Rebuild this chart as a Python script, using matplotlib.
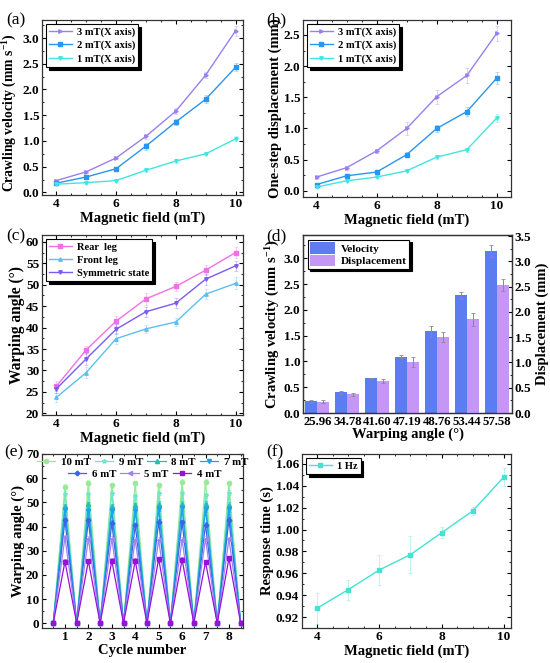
import matplotlib
matplotlib.use("Agg")
import matplotlib.pyplot as plt
import numpy as np
from matplotlib.ticker import MultipleLocator, FormatStrFormatter

plt.rcParams['font.family'] = ['Liberation Serif', 'DejaVu Serif']
plt.rcParams['font.weight'] = 'bold'
plt.rcParams['axes.labelweight'] = 'bold'
plt.rcParams['mathtext.fontset'] = 'custom'
plt.rcParams['mathtext.rm'] = 'Liberation Serif:bold'
plt.rcParams['mathtext.bf'] = 'Liberation Serif:bold'
plt.rcParams['mathtext.default'] = 'bf'

# ---------------- data ----------------
field = [4, 5, 6, 7, 8, 9, 10]

# (a) crawling velocity (mm/s)
vel_3mT = [0.23, 0.40, 0.67, 1.09, 1.58, 2.28, 3.14]
vel_2mT = [0.18, 0.30, 0.46, 0.90, 1.37, 1.81, 2.43]
vel_1mT = [0.16, 0.19, 0.23, 0.43, 0.61, 0.75, 1.04]
vel_3mT_err = [0.03, 0.03, 0.03, 0.05, 0.06, 0.06, 0.10]
vel_2mT_err = [0.03, 0.03, 0.04, 0.07, 0.06, 0.08, 0.08]
vel_1mT_err = [0.02, 0.02, 0.02, 0.04, 0.03, 0.03, 0.05]

# (b) one-step displacement (mm)
disp_3mT = [0.22, 0.37, 0.64, 1.00, 1.51, 1.85, 2.53]
disp_2mT = [0.10, 0.24, 0.30, 0.58, 1.00, 1.27, 1.81]
disp_1mT = [0.06, 0.16, 0.22, 0.32, 0.54, 0.66, 1.17]
disp_3mT_err = [0.03, 0.03, 0.03, 0.10, 0.11, 0.12, 0.12]
disp_2mT_err = [0.02, 0.02, 0.02, 0.04, 0.06, 0.07, 0.10]
disp_1mT_err = [0.02, 0.02, 0.02, 0.02, 0.03, 0.03, 0.06]

# (c) warping angle (deg)
rear_leg = [26.3, 34.8, 41.5, 46.7, 49.6, 53.4, 57.5]
front_leg = [23.7, 29.5, 37.4, 39.7, 41.3, 47.8, 50.3]
symmetric = [25.7, 32.7, 39.6, 43.7, 45.7, 51.3, 54.4]
rear_err = [1.2, 1.0, 1.2, 1.4, 1.0, 1.2, 1.3]
front_err = [1.0, 1.2, 1.3, 1.0, 1.0, 1.2, 1.4]
sym_err = [1.0, 1.4, 1.2, 1.2, 1.2, 1.3, 1.2]

# (d) bars
warp_labels = ['25.96', '34.78', '41.60', '47.19', '48.76', '53.44', '57.58']
bar_velocity = [0.23, 0.40, 0.67, 1.09, 1.58, 2.28, 3.14]
bar_velocity_err = [0.03, 0.03, 0.01, 0.03, 0.10, 0.07, 0.12]
bar_displacement = [0.22, 0.37, 0.64, 1.00, 1.51, 1.85, 2.53]
bar_displacement_err = [0.03, 0.03, 0.04, 0.10, 0.10, 0.12, 0.12]

# (e) cyclic warping angle peaks for cycles 1..8
cycles = [1, 2, 3, 4, 5, 6, 7, 8]
peaks_10mT = [56.5, 58.2, 57.0, 58.0, 57.0, 58.5, 58.5, 57.8]
peaks_9mT = [53.5, 53.3, 54.0, 52.5, 54.0, 54.0, 53.0, 54.0]
peaks_8mT = [48.3, 49.3, 48.3, 48.8, 49.5, 49.5, 49.5, 49.0]
peaks_7mT = [47.0, 46.5, 46.5, 46.5, 47.3, 47.5, 47.2, 47.2]
peaks_6mT = [42.5, 42.5, 41.5, 40.5, 42.0, 41.8, 40.8, 42.8]
peaks_5mT = [35.5, 35.0, 35.0, 34.5, 34.5, 34.5, 35.0, 34.8]
peaks_4mT = [25.5, 25.7, 25.8, 25.8, 26.5, 26.3, 25.3, 26.8]
e_labels = ['10 mT', '9 mT', '8 mT', '7 mT', '6 mT', '5 mT', '4 mT']

# (f) response time
resp_time = [0.928, 0.945, 0.963, 0.977, 0.997, 1.017, 1.048]
resp_err = [0.014, 0.009, 0.014, 0.017, 0.005, 0.004, 0.008]

# ---------------- figure ----------------
W, H = 550, 663
fig = plt.figure(figsize=(W / 100, H / 100), dpi=100)


def ax_px(x0, y0, x1, y1):
    return fig.add_axes([x0 / W, 1 - y1 / H, (x1 - x0) / W, (y1 - y0) / H])


TICK_FS = 9.5
LAB_FS = 10.5
LEG_FS = 7.6


def style(ax, xminor=0.5, yminor=None, right=True):
    ax.tick_params(direction='in', top=True, right=right, labelsize=TICK_FS,
                   length=3, width=0.8, pad=2)
    ax.tick_params(which='minor', direction='in', top=True, right=right,
                   length=1.6, width=0.6)
    if xminor:
        ax.xaxis.set_minor_locator(MultipleLocator(xminor))
    if yminor:
        ax.yaxis.set_minor_locator(MultipleLocator(yminor))
    for s in ax.spines.values():
        s.set_linewidth(0.9)
        s.set_color('#333333')
    for lab in ax.get_xticklabels() + ax.get_yticklabels():
        lab.set_fontweight('bold')


def framed_legend(ax, handles, labels, **kw):
    opts = dict(loc='upper left', fontsize=LEG_FS,
                frameon=True, fancybox=False, edgecolor='black',
                framealpha=1, shadow={'color': 'black', 'alpha': 1},
                borderpad=0.3, labelspacing=0.35, handlelength=2.1,
                handletextpad=0.5, borderaxespad=0.4)
    opts.update(kw)
    leg = ax.legend(handles, labels, **opts)
    leg.get_frame().set_linewidth(0.8)
    for t in leg.get_texts():
        t.set_fontweight('bold')
    return leg


def line_err(ax, x, y, e, color, marker, label, ms=2.5):
    ax.errorbar(x, y, yerr=e, color=color, ecolor=color, elinewidth=0.7,
                capsize=1.5, capthick=0.6, alpha=0.35, fmt='none')
    ln, = ax.plot(x, y, color=color, marker=marker, ms=ms, lw=1.0, label=label)
    return ln


C3, C2, C1 = '#9a80ee', '#2a96ee', '#40e6e0'

# (a)
ax = ax_px(42, 20, 243, 195)
h = [line_err(ax, field, vel_3mT, vel_3mT_err, C3, '>', '3 mT(X axis)'),
     line_err(ax, field, vel_2mT, vel_2mT_err, C2, 's', '2 mT(X axis)'),
     line_err(ax, field, vel_1mT, vel_1mT_err, C1, 'v', '1 mT(X axis)')]
ax.set_xlim(3.52, 10.25)
ax.set_ylim(-0.05, 3.35)
ax.yaxis.set_major_locator(MultipleLocator(0.5))
ax.yaxis.set_major_formatter(FormatStrFormatter('%.1f'))
ax.set_xlabel('Magnetic field (mT)', fontsize=LAB_FS, labelpad=1)
ax.set_ylabel('Crawling velocity (mm s$^{-1}$)', fontsize=9.8, labelpad=1)
ax.yaxis.set_label_coords(-0.112, 0.47)
style(ax, 0.5, 0.25)
framed_legend(ax, h, [l.get_label() for l in h])

# (b)
ax = ax_px(303, 20, 511, 197)
h = [line_err(ax, field, disp_3mT, disp_3mT_err, C3, '>', '3 mT(X axis)'),
     line_err(ax, field, disp_2mT, disp_2mT_err, C2, 's', '2 mT(X axis)'),
     line_err(ax, field, disp_1mT, disp_1mT_err, C1, 'v', '1 mT(X axis)')]
ax.set_xlim(3.55, 10.47)
ax.set_ylim(-0.1, 2.74)
ax.yaxis.set_major_locator(MultipleLocator(0.5))
ax.yaxis.set_major_formatter(FormatStrFormatter('%.1f'))
ax.set_xlabel('Magnetic field (mT)', fontsize=LAB_FS, labelpad=1)
ax.set_ylabel('One-step displacement (mm)', fontsize=LAB_FS, labelpad=1)
style(ax, 0.5, 0.25)
framed_legend(ax, h, [l.get_label() for l in h])

# (c)
ax = ax_px(42, 235, 243, 415)
CR, CF, CS = '#f070e6', '#5cc0f2', '#7a5cf0'
h = [line_err(ax, field, rear_leg, rear_err, CR, 's', 'Rear  leg'),
     line_err(ax, field, front_leg, front_err, CF, '^', 'Front leg'),
     line_err(ax, field, symmetric, sym_err, CS, 'v', 'Symmetric state')]
ax.set_xlim(3.52, 10.25)
ax.set_ylim(19.6, 61.6)
ax.yaxis.set_major_locator(MultipleLocator(5))
ax.set_xlabel('Magnetic field (mT)', fontsize=LAB_FS, labelpad=1)
ax.set_ylabel('Warping angle (°)', fontsize=11.2, labelpad=1)
style(ax, 0.5, 2.5)
framed_legend(ax, h, [l.get_label() for l in h])

# (d)
ax = ax_px(303, 235, 512, 413)
ax2 = ax.twinx()
xi = np.arange(len(warp_labels))
bw = 0.4
CV, CD = '#5c7cf2', '#c596f6'
b1 = ax.bar(xi - bw / 2, bar_velocity, bw, color=CV, label='Velocity', zorder=2)
ax.errorbar(xi - bw / 2, bar_velocity, yerr=bar_velocity_err, fmt='none',
            ecolor='#8a8a8a', elinewidth=0.7, capsize=1.5, capthick=0.6, zorder=3)
b2 = ax2.bar(xi + bw / 2, bar_displacement, bw, color=CD, label='Displacement', zorder=2)
ax2.errorbar(xi + bw / 2, bar_displacement, yerr=bar_displacement_err, fmt='none',
             ecolor='#8a8a8a', elinewidth=0.7, capsize=1.5, capthick=0.6, zorder=3)
ax.set_xlim(-0.48, 6.5)
ax.set_ylim(0, 3.45)
ax2.set_ylim(0, 3.52)
ax.set_xticks(xi)
ax.set_xticklabels(warp_labels)
ax.yaxis.set_major_locator(MultipleLocator(0.5))
ax.yaxis.set_major_formatter(FormatStrFormatter('%.1f'))
ax2.yaxis.set_major_locator(MultipleLocator(0.5))
ax2.yaxis.set_major_formatter(FormatStrFormatter('%.1f'))
ax.set_xlabel('Warping angle (°)', fontsize=LAB_FS, labelpad=0)
ax.set_ylabel('Crawling velocity (mm s$^{-1}$)', fontsize=LAB_FS, labelpad=1)
ax2.set_ylabel('Displacement (mm)', fontsize=LAB_FS, labelpad=3)
ax.tick_params(direction='in', top=False, right=False, labelsize=TICK_FS,
               length=3, width=0.8, pad=2)
ax.tick_params(axis='x', length=0, pad=2, labelsize=9.2)
ax.yaxis.set_minor_locator(MultipleLocator(0.25))
ax.tick_params(which='minor', direction='in', length=1.6, width=0.6)
ax2.tick_params(direction='in', labelsize=TICK_FS, length=3, width=0.8, pad=2)
ax2.yaxis.set_minor_locator(MultipleLocator(0.25))
ax2.tick_params(which='minor', direction='in', length=1.6, width=0.6)
for a in (ax, ax2):
    for s in a.spines.values():
        s.set_linewidth(0.9)
        s.set_color('#333333')
    for lab in a.get_xticklabels() + a.get_yticklabels():
        lab.set_fontweight('bold')
leg = framed_legend(ax2, [b1, b2], ['Velocity', 'Displacement'],
                    handlelength=2.2, handleheight=1.2, labelspacing=0.1,
                    fontsize=8.2, borderpad=0.2)
leg.set_zorder(10)

# (e)
ax = ax_px(42, 454, 243, 628)
xs = []
for c in cycles:
    xs += [c - 0.5, c]
xs.append(cycles[-1] + 0.5)


def cyc(peaks):
    ys = []
    for p in peaks:
        ys += [0, p]
    ys.append(0)
    return ys


e_series = [peaks_10mT, peaks_9mT, peaks_8mT, peaks_7mT, peaks_6mT, peaks_5mT, peaks_4mT]
e_colors = ['#98ea98', '#70e6c8', '#22c0b0', '#1ea2f0', '#3c64e6', '#a084f2', '#9a10d8']
e_markers = ['o', '*', '^', 'v', 'P', '<', 's']
e_handles = []
for ser, col, mk, lab in zip(e_series, e_colors, e_markers, e_labels):
    yy = cyc(ser)
    err = [0.0 if v == 0 else 1.0 for v in yy]
    ax.errorbar(xs, yy, yerr=err, fmt='none', ecolor=col, elinewidth=0.6,
                capsize=1.2, capthick=0.5, alpha=0.6)
    ln, = ax.plot(xs, yy, color=col, marker=mk, ms=3, lw=0.9, label=lab)
    e_handles.append(ln)
ax.set_xlim(0.02, 8.6)
ax.set_ylim(-2, 70)
ax.xaxis.set_major_locator(MultipleLocator(1))
ax.yaxis.set_major_locator(MultipleLocator(10))
ax.set_xlabel('Cycle number', fontsize=LAB_FS, labelpad=1)
ax.set_ylabel('Warping angle (°)', fontsize=LAB_FS, labelpad=1)
style(ax, 0.5, 5)
eleg = dict(frameon=False, fontsize=7.8, handlelength=1.7, handletextpad=0.5,
            columnspacing=0.4, borderaxespad=0.0, borderpad=0.1)
leg1 = ax.legend(e_handles[:4], e_labels[:4], ncol=4, loc='upper center',
                 bbox_to_anchor=(0.5, 0.985), **eleg)
ax.add_artist(leg1)
leg2 = ax.legend(e_handles[4:], e_labels[4:], ncol=3, loc='upper center',
                 bbox_to_anchor=(0.51, 0.92), **eleg)
for lg in (leg1, leg2):
    for t in lg.get_texts():
        t.set_fontweight('bold')

# (f)
ax = ax_px(302, 454, 511, 628)
h = [line_err(ax, field, resp_time, resp_err, '#44e2d2', 's', '1 Hz')]
ax.set_xlim(3.52, 10.23)
ax.set_ylim(0.910, 1.069)
ax.yaxis.set_major_locator(MultipleLocator(0.02))
ax.yaxis.set_major_formatter(FormatStrFormatter('%.2f'))
ax.set_xlabel('Magnetic field (mT)', fontsize=LAB_FS, labelpad=1)
ax.set_ylabel('Response time (s)', fontsize=LAB_FS, labelpad=1)
style(ax, 0.5, 0.01)
framed_legend(ax, h, ['1 Hz'])

# panel labels
for txt, x, y in [('(a)', 6, 20), ('(b)', 266, 20), ('(c)', 6, 236),
                  ('(d)', 266, 236), ('(e)', 4, 452), ('(f)', 266, 452)]:
    fig.text(x / W, 1 - y / H, txt, fontsize=12.5, fontweight='normal',
             ha='left', va='center')

fig.savefig('out.png', dpi=100)
